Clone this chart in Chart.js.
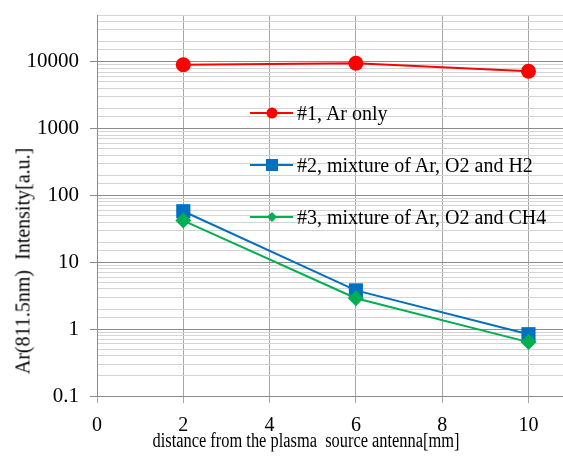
<!DOCTYPE html>
<html>
<head>
<meta charset="utf-8">
<script src="https://cdn.jsdelivr.net/npm/chart.js@4.4.1/dist/chart.umd.min.js"></script>
<style>
  html, body { margin: 0; padding: 0; background: #fff; overflow: hidden; }
  #wrap { position: relative; width: 563px; height: 468px; font-family: "Liberation Serif", "Times New Roman", serif; color: #000; }
  #chart { position: absolute; left: 0; top: 0; }
  .ytitle { position: absolute; left: 23px; top: 261px; transform: translate(-50%, -50%) rotate(-90deg); white-space: pre; font-size: 20px; }
  .xtitle { position: absolute; left: 306px; top: 440px; transform: translate(-50%, -50%) scaleX(0.82); white-space: pre; font-size: 20px; }
  .item { position: absolute; left: 250px; height: 20px; display: flex; align-items: center; white-space: nowrap; font-size: 20px; }
  .swatch { position: relative; width: 43px; height: 20px; margin-right: 4px; }
  .swatch .ln { position: absolute; left: 0; right: 0; top: 9px; height: 2px; }
  .swatch .mk { position: absolute; left: 50%; top: 50%; transform: translate(-50%, -50%); }
</style>
</head>
<body>
<div id="wrap">
  <canvas id="chart" width="563" height="468"></canvas>
  <div class="ytitle" id="ytitle"></div>
  <div class="xtitle" id="xtitle"></div>
  <div id="legend"></div>
</div>
<script>
// data
const distance = [2, 6, 10];
const arOnly = [9000, 9500, 7200];
const arO2H2 = [58, 3.8, 0.84];
const arO2CH4 = [42, 2.9, 0.64];
const seriesNames = ["#1, Ar only", "#2, mixture of Ar, O2 and H2", "#3, mixture of Ar, O2 and CH4"];
const xTicks = [0, 2, 4, 6, 8, 10];
const xTitle = "distance from the plasma  source antenna[mm]";
const yTitle = "Ar(811.5nm)  Intensity[a.u.]";

const fonte = "'Liberation Serif', 'Times New Roman', serif";

function pontos(valores) {
  return distance.map((d, i) => ({ x: d, y: valores[i] }));
}

function ehDecada(v) {
  const l = Math.log10(v);
  return Math.abs(l - Math.round(l)) < 1e-6;
}

const series = [
  { nome: seriesNames[0], valores: arOnly, cor: "#ff0000", estilo: "circle", raio: 7.5, ordem: 3 },
  { nome: seriesNames[1], valores: arO2H2, cor: "#0070c0", estilo: "rect", raio: 10, ordem: 2 },
  { nome: seriesNames[2], valores: arO2CH4, cor: "#00b050", estilo: "rectRot", raio: 8, ordem: 1 },
];

const ctx = document.getElementById("chart");

new Chart(ctx, {
  type: "line",
  data: {
    datasets: series.map((s) => ({
      label: s.nome,
      data: pontos(s.valores),
      borderColor: s.cor,
      backgroundColor: s.cor,
      borderWidth: 2,
      pointStyle: s.estilo,
      pointRadius: s.raio,
      pointBorderWidth: 0,
      order: s.ordem,
      tension: 0,
      clip: false,
    })),
  },
  options: {
    responsive: false,
    animation: false,
    layout: { autoPadding: false, padding: { top: 15, right: 0, left: 0, bottom: 0 } },
    plugins: {
      legend: { display: false },
      tooltip: { enabled: false },
    },
    scales: {
      x: {
        type: "linear",
        min: 0,
        max: 10.8,
        afterFit: (s) => {
          s.height = 72;
          s.paddingLeft = 0;
          s.paddingRight = 0;
        },
        afterBuildTicks: (s) => { s.ticks = xTicks.map((v) => ({ value: v })); },
        border: { color: "#8c8c8c", width: 1 },
        grid: { color: "#a6a6a6", tickColor: "#a6a6a6", tickLength: 7, lineWidth: 1 },
        ticks: {
          color: "#000",
          padding: 11,
          maxRotation: 0,
          font: { family: fonte, size: 20 },
        },
      },
      y: {
        type: "logarithmic",
        min: 0.1,
        max: 50000,
        afterFit: (s) => {
          s.width = 97;
          s.paddingTop = 0;
          s.paddingBottom = 0;
        },
        border: { color: "#8c8c8c", width: 1 },
        grid: {
          color: (c) => (ehDecada(c.tick.value) ? "#8c8c8c" : "#d4d4d4"),
          tickColor: (c) => (ehDecada(c.tick.value) ? "#8c8c8c" : "rgba(0,0,0,0)"),
          tickLength: 7,
          lineWidth: 1,
        },
        ticks: {
          autoSkip: false,
          color: "#000",
          padding: 11,
          font: { family: fonte, size: 21 },
          callback: (v) => (ehDecada(v) ? String(Number(v.toPrecision(1))) : ""),
        },
      },
    },
  },
});

document.getElementById("xtitle").textContent = xTitle;
document.getElementById("ytitle").textContent = yTitle;

// legenda em html, dentro da area do grafico
const legendaTopos = [103, 155, 207];
const legenda = document.getElementById("legend");
series.forEach((s, i) => {
  const item = document.createElement("div");
  item.className = "item";
  item.style.top = legendaTopos[i] + "px";
  let marca = "";
  if (s.estilo === "circle") {
    marca = `width:11px;height:11px;border-radius:50%;background:${s.cor}`;
  } else if (s.estilo === "rect") {
    marca = `width:12px;height:12px;background:${s.cor}`;
  } else {
    marca = `width:7px;height:7px;background:${s.cor};transform:translate(-50%,-50%) rotate(45deg)`;
  }
  item.innerHTML = `<div class="swatch"><div class="ln" style="background:${s.cor}"></div><div class="mk" style="${marca}"></div></div><span>${s.nome}</span>`;
  legenda.appendChild(item);
});
</script>
</body>
</html>
